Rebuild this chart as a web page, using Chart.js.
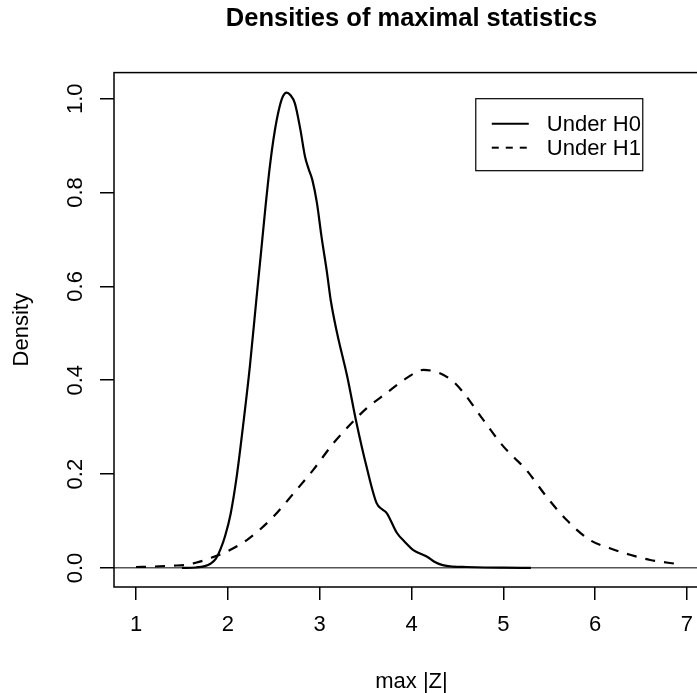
<!DOCTYPE html>
<html>
<head>
<meta charset="utf-8">
<script src="https://cdn.jsdelivr.net/npm/chart.js@4"></script>
<style>
  html, body { margin: 0; padding: 0; background: #fff; overflow: hidden; }
  #wrap { width: 697px; height: 693px; overflow: hidden; }
</style>
</head>
<body>
<div id="wrap"><canvas id="chart" width="823" height="700"></canvas></div>
<script>
// density under H0 (solid)
const h0X = [1.5, 1.65, 1.75, 1.81, 1.87, 1.92, 1.97, 2.03, 2.10, 2.17, 2.24, 2.31, 2.36, 2.41, 2.46, 2.51, 2.56, 2.60, 2.64, 2.68, 2.73, 2.79, 2.84, 2.88, 2.92, 2.97, 3.02, 3.08, 3.12, 3.19, 3.30, 3.40, 3.51, 3.62, 3.68, 3.73, 3.84, 3.93, 4.02, 4.17, 4.26, 4.34, 4.45, 4.6, 4.8, 5.0, 5.3];
const h0Y = [0, 0.001, 0.004, 0.009, 0.02, 0.04, 0.068, 0.115, 0.2, 0.31, 0.43, 0.571, 0.67, 0.77, 0.86, 0.93, 0.98, 1.005, 1.013, 1.008, 0.99, 0.934, 0.877, 0.85, 0.827, 0.778, 0.706, 0.629, 0.571, 0.50, 0.408, 0.31, 0.216, 0.138, 0.125, 0.117, 0.075, 0.055, 0.038, 0.024, 0.012, 0.006, 0.003, 0.002, 0.001, 0.0005, 0];

// density under H1 (dashed)
const h1X = [1.0, 1.2, 1.4, 1.52, 1.65, 1.81, 2.0, 2.21, 2.35, 2.5, 2.72, 2.93, 3.15, 3.33, 3.51, 3.73, 3.95, 4.13, 4.31, 4.45, 4.56, 4.78, 5.0, 5.12, 5.25, 5.47, 5.69, 5.94, 6.16, 6.38, 6.6, 6.89];
const h1Y = [0.002, 0.003, 0.005, 0.006, 0.011, 0.021, 0.036, 0.06, 0.082, 0.11, 0.16, 0.209, 0.266, 0.305, 0.34, 0.373, 0.405, 0.422, 0.415, 0.398, 0.375, 0.316, 0.259, 0.235, 0.209, 0.152, 0.102, 0.06, 0.042, 0.028, 0.017, 0.0085];

const xTicks = [1, 2, 3, 4, 5, 6, 7];
const yTicks = [0, 0.2, 0.4, 0.6, 0.8, 1.0];
const seriesNames = ["Under H0", "Under H1"];
const legendAt = { x: 4.7, y: 1.0 };

const FONT = "'Liberation Sans', Arial, Helvetica, sans-serif";

function toPoints(xs, ys) {
  return xs.map((x, i) => ({ x: x, y: ys[i] }));
}

// box around the plot region
const boxPlugin = {
  id: "box",
  afterDraw(chart) {
    const a = chart.chartArea;
    const ctx = chart.ctx;
    ctx.save();
    ctx.strokeStyle = "#000";
    ctx.lineWidth = 1.5;
    ctx.strokeRect(a.left, a.top, a.right - a.left, a.bottom - a.top);
    ctx.restore();
  }
};

// R style legend box
const rLegend = {
  id: "rLegend",
  afterDraw(chart) {
    const ctx = chart.ctx;
    const xs = chart.scales.x, ys = chart.scales.y;
    const left = xs.getPixelForValue(legendAt.x);
    const top = ys.getPixelForValue(legendAt.y);
    const w = 167, h = 72, rowH = 24;
    ctx.save();
    ctx.strokeStyle = "#000";
    ctx.lineWidth = 1.2;
    ctx.strokeRect(left, top, w, h);
    ctx.font = "22px " + FONT;
    ctx.fillStyle = "#000";
    ctx.textBaseline = "middle";
    chart.data.datasets.forEach((ds, i) => {
      const y = top + 25 + i * rowH;
      ctx.beginPath();
      ctx.lineWidth = 2;
      ctx.setLineDash(i === 0 ? [] : [7, 7]);
      ctx.moveTo(left + 16, y);
      ctx.lineTo(left + 53, y);
      ctx.stroke();
      ctx.setLineDash([]);
      ctx.fillText(ds.label, left + 71, y + 1);
    });
    ctx.restore();
  }
};

new Chart(document.getElementById("chart"), {
  type: "line",
  data: {
    datasets: [
      {
        label: seriesNames[0],
        data: toPoints(h0X, h0Y),
        borderColor: "#000",
        borderWidth: 2.2,
        pointRadius: 0,
        cubicInterpolationMode: "monotone",
        fill: false
      },
      {
        label: seriesNames[1],
        data: toPoints(h1X, h1Y),
        borderColor: "#000",
        borderWidth: 2.2,
        borderDash: [10, 9],
        pointRadius: 0,
        cubicInterpolationMode: "monotone",
        fill: false
      }
    ]
  },
  options: {
    responsive: false,
    animation: false,
    devicePixelRatio: 1,
    layout: { padding: 0 },
    plugins: {
      legend: { display: false },
      tooltip: { enabled: false },
      title: {
        display: true,
        text: "Densities of maximal statistics",
        color: "#000",
        font: { family: FONT, size: 25.5, weight: "bold" },
        padding: { top: 4, bottom: 38 }
      }
    },
    scales: {
      x: {
        type: "linear",
        min: 0.76,
        max: 7.24,
        afterBuildTicks: (s) => { s.ticks = xTicks.map(v => ({ value: v })); },
        afterFit: (s) => { s.height = 113; },
        border: { display: false },
        grid: { drawOnChartArea: false, drawTicks: true, tickLength: 13, color: "#000", lineWidth: 1.5 },
        ticks: { autoSkip: false, maxRotation: 0, padding: 12, color: "#000", font: { family: FONT, size: 22 } },
        title: { display: true, text: "max |Z|", color: "#000", font: { family: FONT, size: 22 }, padding: { top: 0, bottom: 5 } }
      },
      y: {
        type: "linear",
        min: -0.0406,
        max: 1.0556,
        afterBuildTicks: (s) => { s.ticks = yTicks.map(v => ({ value: v })); },
        afterFit: (s) => { s.width = 114; },
        border: { display: false },
        grid: {
          drawOnChartArea: true,
          drawTicks: true,
          tickLength: 14,
          color: (c) => (c.tick && c.tick.value === 0 ? "#555" : "rgba(0,0,0,0)"),
          tickColor: "#000",
          lineWidth: 1.5
        },
        ticks: {
          autoSkip: false,
          minRotation: 90,
          maxRotation: 90,
          crossAlign: "center",
          padding: 9,
          color: "#000",
          font: { family: FONT, size: 22 },
          callback: (v) => Number(v).toFixed(1)
        },
        title: { display: true, text: "Density", color: "#000", font: { family: FONT, size: 22 }, padding: { top: 9, bottom: 0 } }
      },
      // empty right margin, same width as the left one (plot is cut at the window edge)
      yRight: {
        type: "linear",
        position: "right",
        display: true,
        afterFit: (s) => { s.width = 114; },
        border: { display: false },
        grid: { display: false },
        ticks: { display: false }
      }
    }
  },
  plugins: [boxPlugin, rLegend]
});
</script>
</body>
</html>
